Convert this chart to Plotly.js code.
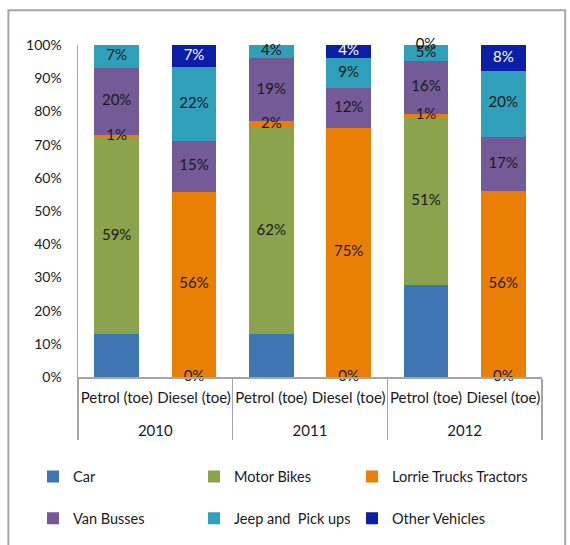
<!DOCTYPE html>
<html><head><meta charset="utf-8">
<script src="https://cdn.plot.ly/plotly-3.0.1.min.js"></script>
<style>html,body{margin:0;padding:0;background:#fff}</style>
</head><body><div id="chart" style="width:570px;height:545px"></div>
<script>
const years = ['2010','2010','2011','2011','2012','2012'];
const fuels = ['Petrol (toe)','Diesel (toe)','Petrol (toe)','Diesel (toe)','Petrol (toe)','Diesel (toe)'];
const seriesNames = ['Car','Motor Bikes','Lorrie Trucks Tractors','Van Busses','Jeep and  Pick ups','Other Vehicles'];
const car        = [13, 0, 13, 0, 27.7, 0];
const motorBikes = [59, 0, 62, 0, 50.6, 0];
const lorrie     = [1, 55.8, 2, 75, 1, 55.9];
const vanBusses  = [20, 15.4, 19, 12, 15.9, 16.5];
const jeep       = [7, 22.2, 4, 9, 4.8, 19.9];
const other      = [0, 6.5, 0, 4, 0, 7.7];
// which data labels appear in the reference
const carShown    = [false, true, false, true, false, true];
const motorShown  = [true, false, true, false, true, false];
const lorrieShown = [true, true, true, true, true, true];
const vanShown    = [true, true, true, true, true, true];
const jeepShown   = [true, true, true, true, true, true];
const otherShown  = [false, true, false, true, true, true];

const series = [car, motorBikes, lorrie, vanBusses, jeep, other];
const shown = [carShown, motorShown, lorrieShown, vanShown, jeepShown, otherShown];
const colors = ['#3d76b3', '#8aa34c', '#ea7f05', '#745b98', '#2f9fba', '#0a1ea6'];
const FONT = 'Lato, "Open Sans", sans-serif';

// inner tick labels get an empty second line so the year row sits lower, as in the reference
const fuelTicks = fuels.map(f => f + '<br>\u00a0');
const xCats = [years, fuelTicks];
// legend columns: series i goes to column i % 3
const legendIds = ['legend', 'legend2', 'legend3'];

const traces = [];
series.forEach((vals, i) => {
  traces.push({
    type: 'bar', name: seriesNames[i], x: xCats, y: vals,
    marker: {color: colors[i], line: {width: 0}},
    legend: legendIds[i % 3], legendgroup: 'g' + i,
    hoverinfo: 'skip'
  });
});
// data labels, positioned at the middle of each stacked segment
const base = [0, 0, 0, 0, 0, 0];
series.forEach((vals, i) => {
  const ys = vals.map((v, k) => base[k] + v / 2);
  const txt = vals.map((v, k) => shown[i][k] ? Math.round(v) + '%' : '');
  const tcol = vals.map(v => (i === 5 && v > 0) ? '#ffffff' : '#1a1a1a');
  traces.push({
    type: 'scatter', mode: 'text', x: xCats, y: ys, text: txt,
    textposition: 'middle center', textfont: {family: FONT, size: 15, color: tcol},
    showlegend: false, hoverinfo: 'skip', cliponaxis: false
  });
  vals.forEach((v, k) => base[k] += v);
});

const legendCommon = {orientation: 'v', xanchor: 'left', yanchor: 'middle', y: -0.359,
  font: {family: FONT, size: 14.5, color: '#1a1a1a'}, tracegroupgap: 20,
  itemwidth: 30, traceorder: 'grouped', bgcolor: 'rgba(0,0,0,0)'};

const layout = {
  width: 570, height: 545,
  margin: {l: 78, r: 28, t: 45, b: 167},
  paper_bgcolor: '#ffffff', plot_bgcolor: '#ffffff',
  barmode: 'stack', bargap: 0.42,
  font: {family: FONT, size: 14, color: '#1a1a1a'},
  xaxis: {
    type: 'multicategory', showline: true, linecolor: '#a6a6a6', linewidth: 1.5,
    showdividers: true, dividercolor: '#a6a6a6', dividerwidth: 1.5, automargin: false,
    tickangle: 0, ticklabelstandoff: 6, tickfont: {family: FONT, size: 15, color: '#1a1a1a'}, showgrid: false
  },
  yaxis: {
    range: [0, 100], dtick: 10, ticksuffix: '%', showline: true, linecolor: '#a6a6a6', linewidth: 1.5,
    showgrid: false, zeroline: false, ticks: '', ticklabelstandoff: 12, automargin: false,
    tickfont: {family: FONT, size: 14, color: '#1a1a1a'}, fixedrange: true
  },
  legend: Object.assign({}, legendCommon, {x: -0.097}),
  legend2: Object.assign({}, legendCommon, {x: 0.25}),
  legend3: Object.assign({}, legendCommon, {x: 0.5906}),
  shapes: [{type: 'rect', xref: 'paper', yref: 'paper', x0: -0.15, x1: 1.05, y0: -0.7, y1: 1.105,
    line: {color: '#a6a6a6', width: 2}, fillcolor: 'rgba(0,0,0,0)', layer: 'below'}],
  showlegend: true
};
Plotly.newPlot('chart', traces, layout, {displayModeBar: false, staticPlot: true});
</script></body></html>
